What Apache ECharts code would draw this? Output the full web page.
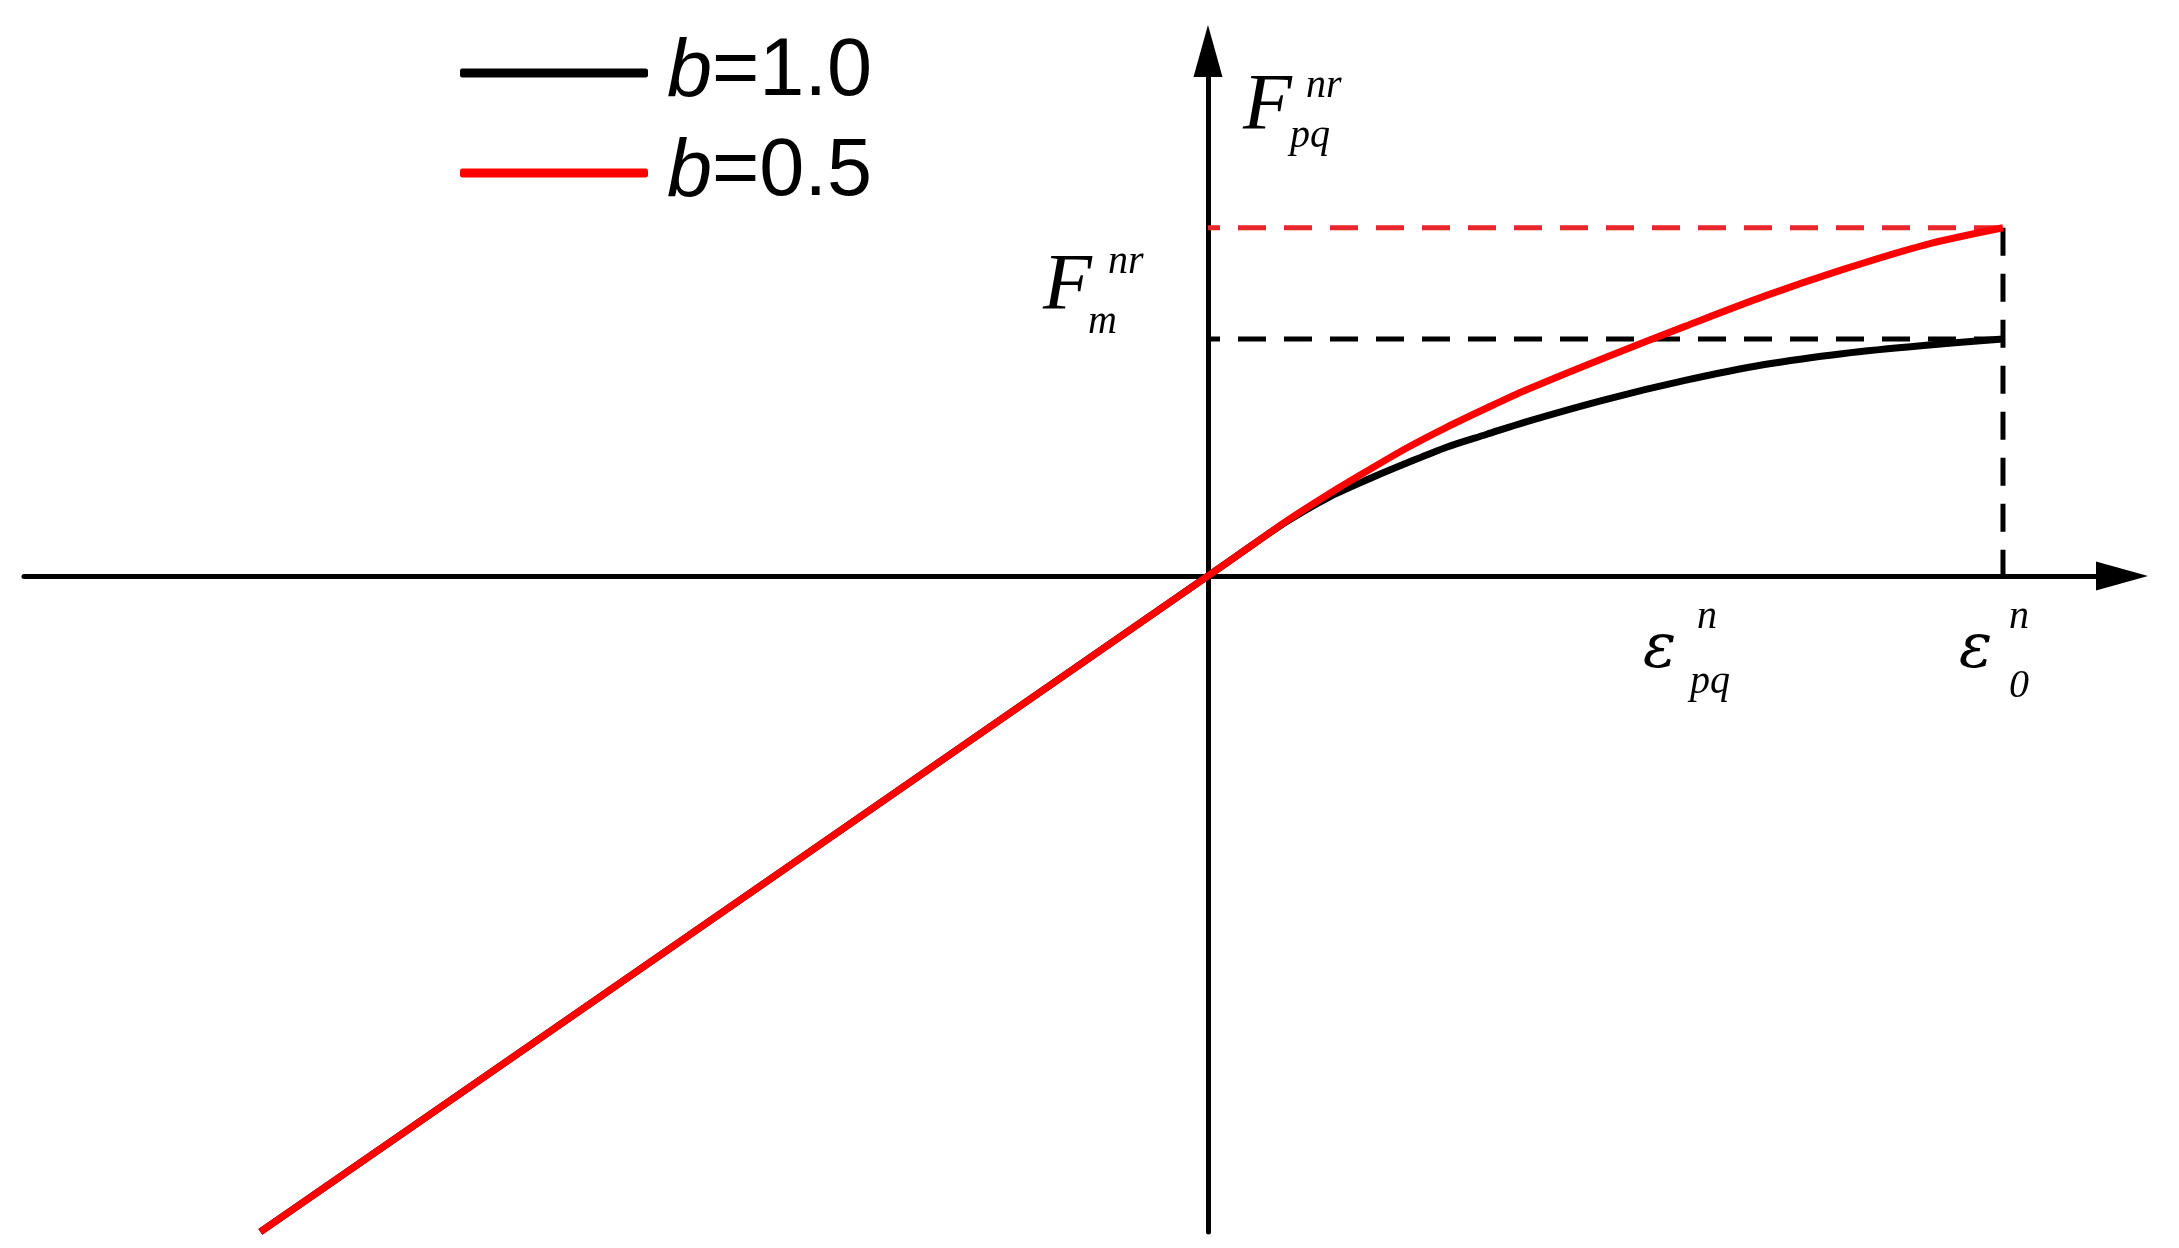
<!DOCTYPE html>
<html>
<head>
<meta charset="utf-8">
<title>F-eps curve</title>
<script src="https://cdn.jsdelivr.net/npm/echarts@6.0.0/dist/echarts.min.js"></script>
<style>
  html, body { margin: 0; padding: 0; background: #fff; }
  #chart { width: 2179px; height: 1248px; }
</style>
</head>
<body>
<div id="chart"></div>
<script>
// strain, normalised so that eps0 = 1
const strain = [0, 0.05, 0.1, 0.15, 0.2, 0.25, 0.3, 0.35, 0.4, 0.5, 0.6, 0.7, 0.8, 0.9, 1.0];
// force for the two b values (same units as strain)
const forceB10 = [0, 0.035, 0.069, 0.098, 0.121, 0.142, 0.162, 0.178, 0.194, 0.222, 0.246, 0.266, 0.280, 0.290, 0.298];
const forceB05 = [0, 0.035, 0.070, 0.102, 0.132, 0.161, 0.187, 0.211, 0.234, 0.275, 0.314, 0.352, 0.386, 0.416, 0.438];
// straight branch on the negative side (start point)
const compStrain = [-1.192];
const compForce = [-0.825];
const seriesNames = ['b=1.0', 'b=0.5'];

const mathFont = '"Liberation Serif", "Times New Roman", serif';
const greekFont = '"DejaVu Serif", serif';

function curve (xs, ys) {
  let pts = compStrain.map((x, i) => [x, compForce[i]]);
  xs.forEach((x, i) => pts.push([x, ys[i]]));
  return pts;
}

const eps0 = strain[strain.length - 1];
const fPq = forceB05[forceB05.length - 1];
const fM = forceB10[forceB10.length - 1];

let myChart = echarts.init(document.getElementById('chart'));

// 文字注释
function txt (str, x, y, size, italic, family) {
  return {
    type: 'text',
    x: x,
    y: y,
    style: {
      text: str,
      font: (italic === false ? '' : 'italic ') + size + 'px ' + (family || mathFont),
      fill: '#000',
      align: 'left',
      verticalAlign: 'middle'
    }
  };
}

let option = {
  animation: false,
  backgroundColor: '#fff',
  grid: {
    left: 24,
    right: 57,
    top: 51,
    bottom: 16
  },
  legend: {
    data: seriesNames,
    orient: 'vertical',
    left: 460,
    top: 23,
    padding: 0,
    itemGap: 0,
    icon: 'roundRect',
    itemWidth: 188,
    itemHeight: 9,
    selectedMode: false,
    formatter: function (name) {
      return '{i|b}{t|' + name.slice(1) + '}';
    },
    textStyle: {
      fontFamily: '"Liberation Sans", Arial, sans-serif',
      fontSize: 81,
      lineHeight: 100,
      color: '#000',
      rich: {
        i: {
          fontStyle: 'italic',
          fontFamily: '"Liberation Sans", Arial, sans-serif',
          fontSize: 81,
          lineHeight: 100,
          padding: [0, 0, 0, 14]
        },
        t: {
          fontFamily: '"Liberation Sans", Arial, sans-serif',
          fontSize: 81,
          lineHeight: 100
        }
      }
    }
  },
  xAxis: {
    type: 'value',
    min: -1.4893,
    max: 1.1497,
    axisLine: {
      show: true,
      onZero: true,
      symbol: ['none', 'triangle'],
      symbolSize: [29, 52],
      lineStyle: { color: '#000', width: 5 }
    },
    axisTick: { show: false },
    axisLabel: { show: false },
    splitLine: { show: false }
  },
  yAxis: {
    type: 'value',
    min: -0.8252,
    max: 0.6604,
    axisLine: {
      show: true,
      onZero: true,
      symbol: ['none', 'triangle'],
      symbolSize: [29, 52],
      lineStyle: { color: '#000', width: 5 }
    },
    axisTick: { show: false },
    axisLabel: { show: false },
    splitLine: { show: false }
  },
  series: [
    {
      name: 'guideRed',
      type: 'line',
      data: [[0, fPq], [eps0, fPq]],
      showSymbol: false,
      silent: true,
      lineStyle: { color: '#e8262c', width: 5, type: [28, 18], dashOffset: 16 }
    },
    {
      name: 'guideBlack',
      type: 'line',
      data: [[0, fM], [eps0, fM]],
      showSymbol: false,
      silent: true,
      lineStyle: { color: '#000', width: 5, type: [28, 18], dashOffset: 16 }
    },
    {
      name: 'guideVert',
      type: 'line',
      data: [[eps0, fPq], [eps0, 0]],
      showSymbol: false,
      silent: true,
      lineStyle: { color: '#000', width: 5, type: [28, 18] }
    },
    {
      name: seriesNames[0],
      type: 'line',
      data: curve(strain, forceB10),
      showSymbol: false,
      smooth: 0.3,
      itemStyle: { color: '#000' },
      lineStyle: { color: '#000', width: 7, join: 'round' }
    },
    {
      name: seriesNames[1],
      type: 'line',
      data: curve(strain, forceB05),
      showSymbol: false,
      smooth: 0.3,
      itemStyle: { color: '#ff0000' },
      lineStyle: { color: '#ff0000', width: 7, join: 'round' }
    }
  ],
  graphic: [
    // F_pq^nr
    txt('F', 1243, 108, 80),
    txt('nr', 1306, 86, 40),
    txt('pq', 1290, 136, 40),
    // F_m^nr
    txt('F', 1043, 288, 80),
    txt('nr', 1108, 262, 40),
    txt('m', 1088, 322, 40),
    // eps_pq^n
    txt('ε', 1643, 651, 62, true, greekFont),
    txt('n', 1697, 617, 40),
    txt('pq', 1690, 682, 40),
    // eps_0^n
    txt('ε', 1959, 651, 62, true, greekFont),
    txt('n', 2009, 617, 40),
    txt('0', 2009, 686, 40)
  ]
};

myChart.setOption(option);
</script>
</body>
</html>
